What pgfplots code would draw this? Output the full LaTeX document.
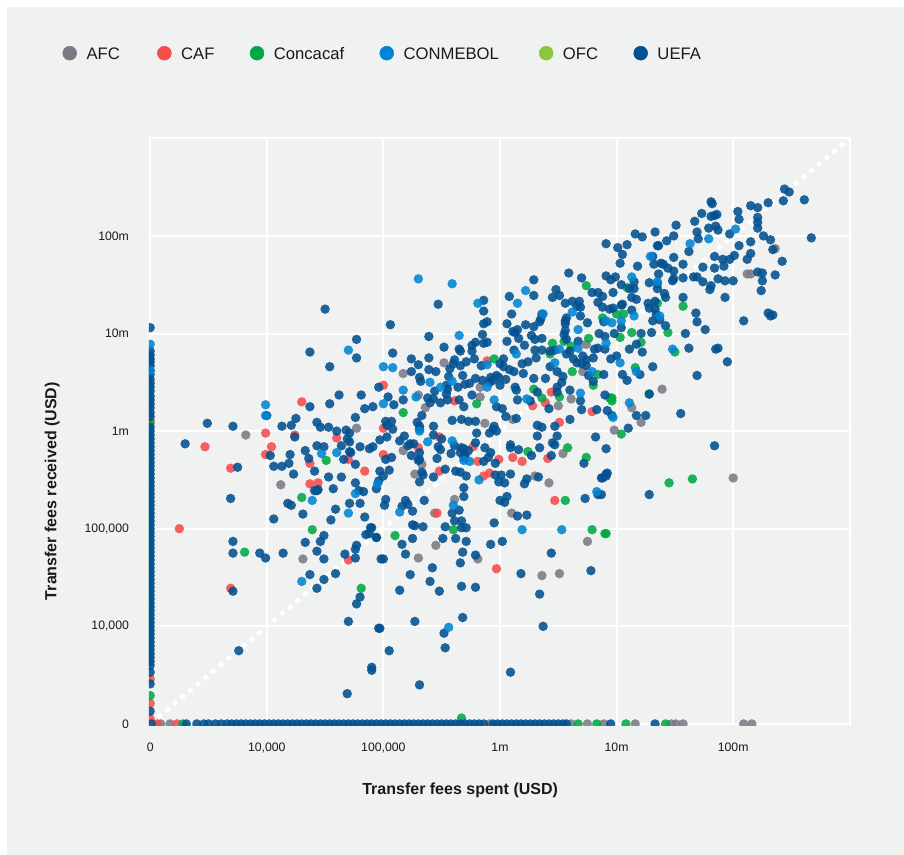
\documentclass[border=0pt]{standalone}
\usepackage{fontspec}
\setmainfont{Liberation Sans}
\usepackage{pgfplots}
\pgfplotsset{compat=1.18}

\definecolor{panel}{HTML}{F0F2F1}
\definecolor{afc}{HTML}{7A7B85}
\definecolor{caf}{HTML}{F54C4C}
\definecolor{concacaf}{HTML}{00A944}
\definecolor{conmebol}{HTML}{0085D2}
\definecolor{ofc}{HTML}{8CC63F}
\definecolor{uefa}{HTML}{025190}
\definecolor{ink}{HTML}{1A1A1A}

% points are log10(USD); 3 on either axis stands for a fee of 0
\pgfplotsset{
  dots/.style={only marks, mark=*, mark size=3.55pt,
    mark options={draw opacity=0, fill=#1, fill opacity=.88}, forget plot},
  key/.style={legend image code/.code={\fill[#1] (0,0) circle (5.2pt); \path (10.4pt,0);}},
}

\begin{document}
\begin{tikzpicture}
\path[use as bounding box, fill=white] (0,0) rectangle (678pt,641.25pt);
\fill[panel] (5.25pt,0) rectangle (678pt,636pt);
\begin{axis}[
    at={(111.75pt,97.2pt)}, anchor=south west,
    scale only axis, width=525.6pt, height=440.3pt,
    xmin=2.99, xmax=9, ymin=2.985, ymax=9,
    clip marker paths=true,
    xtick={3,4,5,6,7,8,9}, ytick={3,4,5,6,7,8,9},
    xticklabels={0,{10,000},{100,000},1m,10m,100m,{}},
    yticklabels={0,{10,000},{100,000},1m,10m,100m,{}},
    tick label style={font=\fontsize{9.2}{11}\selectfont, text=ink},
    xticklabel style={yshift=-9.5pt},
    yticklabel style={xshift=-11.5pt},
    tick style={draw=none},
    grid=major,
    major grid style={white, line width=1.5pt},
    axis line style={draw=none},
    every axis x label/.style={at={(axis description cs:0.444,-0.111)}, anchor=center},
    every axis y label/.style={at={(axis description cs:-0.138,0.399)}, rotate=90, anchor=center},
    label style={font=\bfseries\fontsize{12}{14}\selectfont, text=ink},
    xlabel={Transfer fees spent (USD)},
    ylabel={Transfer fees received (USD)},
    legend columns=6,
    legend style={draw=none, fill=none, at={(axis description cs:-0.1295,1.145)}, anchor=west,
      font=\fontsize{12.5}{15}\selectfont, text=ink,
      nodes={text height=9pt, text depth=0pt},
      /tikz/every even column/.append style={column sep=24.5pt}},
    legend cell align=left,
]
\addlegendimage{key=afc}\addlegendentry{AFC\rule{1.5pt}{0pt}}
\addlegendimage{key=caf}\addlegendentry{CAF}
\addlegendimage{key=concacaf}\addlegendentry{Concacaf}
\addlegendimage{key=conmebol}\addlegendentry{CONMEBOL\rule{3.5pt}{0pt}}
\addlegendimage{key=ofc}\addlegendentry{OFC}
\addlegendimage{key=uefa}\addlegendentry{UEFA}

\addplot[white, line width=3.2pt, dash pattern=on 3.6pt off 3.9pt, forget plot] coordinates {(3,3) (9,9)};

% AFC
\addplot[dots=afc] coordinates {
(3.09,3)(3.17,3)(5.91,3)(6.61,3)(6.75,3)(6.89,3)(7.16,3)(7.47,3)(7.51,3)(7.57,3)(8.09,3)(8.16,3)
(3.82,5.96)(4.77,6.03)(4.12,5.45)(4.31,4.69)
(8.36,7.87)(8.12,7.61)(8.15,7.61)(7.39,6.43)(8.00,5.52)(7.21,6.09)(6.98,6.01)(7.13,6.24)
(5.52,6.70)(5.17,6.59)(5.30,6.37)(5.83,6.45)(5.83,6.35)(5.36,6.24)(6.61,6.33)(6.50,6.26)(6.71,6.61)(6.74,6.89)
(6.11,6.12)(5.87,6.08)(5.17,5.80)(6.54,5.77)(5.33,5.66)(5.27,5.56)(6.30,5.54)(6.42,5.47)
(5.61,5.30)(5.44,5.16)(6.10,5.16)(5.45,4.83)(5.30,4.70)(5.81,4.69)(6.75,4.87)(6.36,4.52)(6.51,4.54)
};
% CAF
\addplot[dots=caf] coordinates {
(3.06,3)(3.23,3)(3,3.05)(3,3.21)(3,3.46)(3,6.11)
(4.30,6.30)(3.99,5.98)(4.24,5.96)(4.60,5.93)(3.47,5.84)(4.04,5.84)(3.99,5.76)(3.69,5.62)(4.37,5.67)(4.70,5.71)(4.84,5.59)(4.37,5.46)(4.44,5.47)
(5.89,6.72)(5.00,6.47)(6.44,6.40)(5.61,6.31)(6.28,6.26)(6.39,6.29)(6.79,6.20)(6.51,6.09)(5.00,6.03)(5.48,5.94)(5.30,5.83)(5.00,5.76)(5.77,5.84)
(5.81,5.69)(5.99,5.71)(6.11,5.73)(6.19,5.69)(6.41,5.72)(5.48,5.59)(5.91,5.57)(5.86,5.54)
(5.46,5.16)(6.47,5.29)(5.97,4.59)(3.25,5.00)(3.69,4.39)(4.70,4.68)
};
% Concacaf
\addplot[dots=concacaf] coordinates {
(3.28,3)(6.67,3)(6.83,3)(7.08,3)(7.42,3)(3,3.29)(3,6.08)
(4.51,5.70)(4.30,5.32)(7.04,5.97)(7.45,5.47)(7.65,5.51)(6.91,4.95)(6.96,6.31)
(7.09,7.47)(7.57,7.28)(7.35,7.31)(7.00,7.20)(7.06,7.20)(7.13,7.01)(7.44,7.01)(7.03,6.96)(7.21,6.91)(7.50,6.81)(7.16,6.65)(7.28,6.38)(6.96,6.34)
(6.74,7.49)(6.88,7.16)(6.45,6.90)(6.76,6.95)(6.55,6.92)(6.61,6.87)(6.43,6.79)(5.95,6.74)(6.62,6.61)(6.84,6.58)(6.80,6.47)(6.29,6.43)(6.36,6.34)(6.51,6.35)(6.94,6.34)
(5.80,6.28)(5.17,6.19)(6.58,5.83)(6.24,5.79)(6.74,5.73)
(6.56,5.29)(5.60,4.99)(5.10,4.93)(6.79,4.99)(6.90,4.95)(5.67,3.06)(4.39,4.99)(3.81,4.76)(4.81,4.39)
};
% UEFA
\addplot[dots=uefa] coordinates {
% fee received, nothing spent
(3,7.06)(3,6.82)(3,6.78)(3,6.74)(3,6.71)(3,6.67)(3,6.62)(3,6.58)(3,6.53)(3,6.49)(3,6.45)(3,6.41)(3,6.36)(3,6.32)(3,6.28)(3,6.24)(3,6.19)(3,6.15)
(3,6.04)(3,6.00)(3,5.96)(3,5.92)(3,5.88)(3,5.84)(3,5.80)(3,5.76)(3,5.72)(3,5.68)(3,5.64)(3,5.60)(3,5.56)(3,5.52)(3,5.48)(3,5.44)(3,5.40)(3,5.36)
(3,5.32)(3,5.28)(3,5.24)(3,5.20)(3,5.16)(3,5.12)(3,5.08)(3,5.04)(3,5.00)(3,4.96)(3,4.92)(3,4.88)(3,4.84)(3,4.80)(3,4.76)(3,4.72)(3,4.68)(3,4.64)
(3,4.60)(3,4.56)(3,4.52)(3,4.48)(3,4.44)(3,4.40)(3,4.36)(3,4.32)(3,4.28)(3,4.24)(3,4.20)(3,4.16)(3,4.12)(3,4.08)(3,4.04)(3,4.00)(3,3.96)(3,3.92)
(3,3.88)(3,3.84)(3,3.80)(3,3.76)(3,3.72)(3,3.68)(3,3.64)(3,3.60)(3,3.53)(3,3.41)(3,3.13)
% fee spent, nothing received
(3.01,3)(3.31,3)(3.40,3)(3.46,3)(3.50,3)(3.56,3)(3.61,3)(3.66,3)(3.70,3)(3.74,3)(3.78,3)(3.82,3)(3.86,3)(3.90,3)(3.94,3)(3.98,3)(4.02,3)(4.06,3)
(4.10,3)(4.14,3)(4.18,3)(4.22,3)(4.26,3)(4.30,3)(4.34,3)(4.38,3)(4.42,3)(4.46,3)(4.50,3)(4.54,3)(4.58,3)(4.62,3)(4.66,3)(4.70,3)(4.74,3)(4.78,3)
(4.82,3)(4.86,3)(4.90,3)(4.94,3)(4.98,3)(5.02,3)(5.06,3)(5.10,3)(5.14,3)(5.18,3)(5.22,3)(5.26,3)(5.30,3)(5.34,3)(5.38,3)(5.42,3)(5.46,3)(5.50,3)
(5.54,3)(5.58,3)(5.62,3)(5.66,3)(5.70,3)(5.74,3)(5.78,3)(5.82,3)(5.86,3)(5.94,3)(5.98,3)(6.02,3)(6.06,3)(6.10,3)(6.14,3)(6.18,3)(6.22,3)(6.26,3)
(6.30,3)(6.34,3)(6.38,3)(6.42,3)(6.46,3)(6.50,3)(6.54,3)(6.57,3)(6.95,3)(7.33,3)
% left of centre
(4.50,7.25)(4.77,6.94)(4.77,6.75)(4.37,6.81)(4.54,6.66)(4.62,6.37)(4.81,6.37)(4.54,6.28)(4.37,6.25)(4.84,6.23)(4.76,6.14)(4.25,6.13)(4.00,6.16)
(3.49,6.08)(3.71,6.05)(4.13,6.05)(4.21,6.06)(4.43,6.09)(4.46,6.04)(4.53,6.04)(4.60,6.00)(4.68,6.01)(4.71,5.98)(4.69,5.92)(4.71,5.89)(4.64,5.85)
(4.43,5.85)(4.49,5.84)(4.80,5.84)(4.88,5.82)(3.30,5.87)(4.24,5.94)(4.03,5.75)(4.20,5.76)(4.33,5.80)(4.36,5.72)(4.71,5.79)(4.72,5.78)(4.66,5.71)
(4.76,5.66)(4.06,5.64)(4.13,5.64)(4.19,5.67)(4.41,5.59)(4.23,5.56)(3.75,5.63)(4.53,5.53)(4.64,5.53)(4.76,5.47)(4.57,5.41)(4.43,5.39)(4.41,5.39)
(4.44,5.40)(4.79,5.39)(4.83,5.38)(3.69,5.31)
(4.18,5.26)(4.21,5.24)(4.31,5.15)(4.71,5.26)(4.80,5.26)(4.59,5.20)(4.55,5.09)(4.84,5.12)(4.06,5.10)(4.89,5.01)(4.85,4.94)(4.88,4.95)(4.94,4.91)
(3.71,4.87)(3.71,4.75)(3.94,4.75)(3.99,4.70)(4.14,4.75)(4.33,4.86)(4.46,4.87)(4.49,4.93)(4.43,4.77)(4.49,4.69)(4.77,4.83)(4.76,4.79)(4.67,4.74)
(4.76,4.70)(4.37,4.53)(4.59,4.54)(4.49,4.48)(4.43,4.39)(4.80,4.30)(4.77,4.23)(3.71,4.36)(4.70,4.05)(4.96,3.98)(3.76,3.75)(4.90,3.58)(4.69,3.31)(4.98,4.69)
% centre
(6.59,7.62)(6.29,7.55)(6.70,7.57)(6.99,7.58)(5.47,7.30)(5.86,7.34)(6.08,7.38)(6.29,7.39)(6.45,7.37)(6.51,7.39)(6.48,7.45)(6.56,7.31)(6.79,7.42)
(6.84,7.42)(6.88,7.38)(6.84,7.32)(6.62,7.33)(6.68,7.33)(6.66,7.28)(6.69,7.27)(6.88,7.27)(6.94,7.25)(5.86,7.23)(6.10,7.20)(6.36,7.20)(6.35,7.15)
(6.34,7.12)(6.69,7.18)(6.56,7.13)(6.57,7.16)(6.56,7.10)(6.75,7.11)(6.89,7.12)(5.89,7.12)(5.86,7.10)(5.06,7.09)(6.06,7.10)(6.22,7.09)(6.29,7.07)
(6.15,7.04)(6.11,7.02)(6.13,7.01)(6.56,7.03)(6.55,6.99)(5.85,6.99)(5.39,6.97)(6.16,6.95)(6.27,6.98)(6.30,6.94)(6.36,6.95)(6.85,7.00)(6.90,6.97)
(6.57,6.94)(6.67,6.92)(6.06,6.92)(5.89,6.91)(5.86,6.90)(5.79,6.91)(5.76,6.88)(6.21,6.88)(5.52,6.86)(5.65,6.84)(5.66,6.82)(5.76,6.82)(5.08,6.80)
(6.12,6.83)(6.30,6.83)(6.36,6.83)(6.43,6.82)(6.47,6.83)(6.60,6.82)(6.57,6.79)(6.84,6.85)(6.90,6.84)(6.71,6.77)(6.81,6.84)(5.24,6.74)(5.39,6.75)
(5.78,6.74)(5.71,6.71)(6.03,6.74)(6.31,6.75)(6.24,6.71)(6.19,6.69)(5.61,6.73)(5.60,6.69)(5.66,6.67)(5.30,6.68)(5.84,6.67)(6.00,6.69)(6.03,6.66)
(6.63,6.74)(6.66,6.70)(6.70,6.69)(6.74,6.73)(6.74,6.67)(6.80,6.75)(6.43,6.66)(6.49,6.61)(5.39,6.63)(5.45,6.61)(5.57,6.64)(5.24,6.61)(6.08,6.63)
(6.12,6.61)(6.20,6.59)(5.56,6.56)(5.68,6.57)(5.31,6.55)(5.32,6.51)(5.79,6.54)(5.85,6.52)(5.92,6.55)(5.97,6.57)(5.99,6.55)(5.94,6.52)(6.05,6.53)
(6.29,6.54)(6.39,6.54)(6.54,6.56)(6.76,6.57)(6.53,6.50)(6.49,6.45)(6.49,6.40)(6.60,6.42)(6.89,6.58)(6.80,6.51)(6.13,6.45)(6.14,6.42)(5.74,6.49)
(5.70,6.48)(5.64,6.45)(5.54,6.47)(5.55,6.43)(5.44,6.41)(5.54,6.38)(4.96,6.45)(5.04,6.35)(5.17,6.32)(5.09,6.27)(4.91,6.25)(5.38,6.34)(5.43,6.33)
(5.40,6.29)(5.49,6.29)(5.55,6.32)(5.65,6.32)(5.69,6.25)(5.76,6.37)(5.91,6.50)(6.00,6.47)(6.15,6.32)(6.26,6.31)(6.32,6.40)(6.42,6.23)(5.97,6.25)
(6.02,6.23)(6.05,6.15)(6.14,6.13)(6.69,6.31)(6.70,6.22)(6.83,6.22)(6.90,6.37)(5.33,6.16)(5.29,6.09)(5.31,6.05)(5.31,6.02)(5.02,6.10)(5.07,6.10)
(5.03,6.06)(5.08,6.02)(5.43,6.05)(5.59,6.11)(5.67,6.12)(5.73,6.10)(5.79,6.10)(5.95,6.05)(5.94,6.02)(5.91,5.98)(5.97,6.00)(5.80,5.98)(6.32,6.06)
(6.36,6.04)(6.47,6.05)(6.60,6.12)(6.82,5.94)(6.32,5.95)(6.49,5.95)(6.45,5.88)(6.47,5.86)(6.34,5.83)(6.09,5.86)(6.09,5.83)(6.16,5.81)(6.27,5.75)
(6.44,5.75)(6.72,5.67)(5.43,5.96)(5.50,5.92)(5.18,5.95)(5.14,5.90)(5.03,5.94)(4.97,5.91)(4.91,5.84)(5.23,5.87)(5.26,5.87)(5.21,5.85)(5.31,5.78)
(5.24,5.75)(5.31,5.71)(5.30,5.70)(5.07,5.73)(5.02,5.71)(5.47,5.84)(5.49,5.81)(5.58,5.77)(5.61,5.85)(5.67,5.83)(5.69,5.82)(5.79,5.88)(5.87,5.83)
(5.66,5.78)(5.73,5.80)(5.70,5.75)(5.69,5.73)(5.92,5.78)(5.90,5.73)(5.86,5.69)(5.96,5.67)(5.46,5.72)(5.33,5.58)(5.34,5.55)(5.31,5.48)(5.53,5.61)
(5.43,5.53)(5.62,5.59)(5.66,5.58)(5.71,5.54)(4.97,5.59)(5.05,5.60)(5.00,5.54)(4.96,5.49)(4.94,5.41)(5.69,5.42)(5.96,5.55)(6.01,5.55)(6.09,5.56)
(5.99,5.48)(6.04,5.47)(6.23,5.51)(6.21,5.46)(6.33,5.53)(6.87,5.52)(6.91,5.56)
% below centre
(5.02,5.30)(5.01,5.24)(5.19,5.29)(5.16,5.23)(5.21,5.25)(5.35,5.29)(5.25,5.18)(5.25,5.04)(5.27,5.03)(5.34,5.02)(5.69,5.33)(5.65,5.19)(5.59,5.16)
(5.53,5.02)(5.61,5.08)(5.67,5.08)(5.67,5.01)(5.71,5.01)(6.00,5.29)(6.04,5.27)(6.06,5.33)(6.15,5.13)(6.23,5.14)(5.95,5.06)(4.90,5.01)(4.94,4.91)
(5.25,4.90)(5.16,4.84)(5.19,4.74)(5.51,4.90)(5.62,4.90)(5.71,4.87)(5.92,4.84)(6.02,4.87)(5.68,4.76)(5.79,4.73)(5.66,4.65)(5.00,4.69)(5.42,4.60)
(5.23,4.53)(5.40,4.46)(5.14,4.37)(5.48,4.36)(5.67,4.41)(5.79,4.40)(6.18,4.54)(6.44,4.75)(6.78,4.57)(6.34,4.33)(6.73,5.31)(6.84,5.35)(5.27,4.05)
(5.68,4.09)(4.97,3.98)(5.52,3.93)(6.37,4.00)(5.05,3.75)(5.53,3.78)(4.90,3.55)(6.09,3.53)(5.31,3.40)
% top right
(8.44,8.48)(8.48,8.45)(8.43,8.36)(8.61,8.37)(8.30,8.34)(8.15,8.31)(8.21,8.29)(7.81,8.35)(7.82,8.33)(7.73,8.23)(8.04,8.25)(8.21,8.19)(7.81,8.20)
(7.84,8.21)(7.86,8.22)(7.67,8.15)(8.05,8.17)(7.51,8.11)(8.21,8.14)(8.21,8.08)(7.85,8.10)(7.79,8.08)(7.87,8.06)(7.69,8.04)(7.97,8.02)(7.33,8.04)
(7.16,8.02)(7.22,7.99)(7.49,8.00)(7.70,7.97)(8.26,8.00)(8.32,7.96)(8.67,7.98)(7.43,7.95)(7.35,7.90)(7.36,7.90)(6.91,7.92)(7.09,7.91)(7.01,7.88)
(7.05,7.81)(8.05,7.90)(8.15,7.94)(8.34,7.86)(7.62,7.84)(8.15,7.82)(8.01,7.80)(7.84,7.79)(7.31,7.79)(7.49,7.78)(7.91,7.76)(7.97,7.76)(8.12,7.76)
(8.42,7.74)(7.03,7.72)(7.32,7.71)(7.38,7.72)(7.40,7.71)(7.57,7.71)(7.18,7.69)(7.44,7.67)(7.74,7.68)(7.84,7.67)(7.92,7.69)(7.49,7.64)(8.21,7.63)
(8.25,7.62)(8.36,7.60)(7.36,7.61)(6.91,7.59)(7.57,7.57)(7.66,7.58)(7.69,7.58)(7.87,7.56)(7.49,7.56)(7.48,7.54)(8.25,7.54)(7.93,7.54)(8.00,7.54)
(7.74,7.53)(6.95,7.55)(7.28,7.52)(7.04,7.50)(7.35,7.51)(7.81,7.49)(7.80,7.45)(7.15,7.53)(7.11,7.46)(7.15,7.46)(7.35,7.46)(8.24,7.44)(6.97,7.42)
(7.41,7.41)(7.42,7.37)(7.57,7.37)(7.93,7.37)(7.13,7.37)(7.17,7.35)(7.33,7.33)(7.27,7.31)(7.05,7.30)(7.04,7.29)(7.28,7.26)(6.97,7.26)(7.13,7.24)
(7.33,7.25)(8.30,7.21)(8.34,7.19)(8.32,7.18)(7.34,7.20)(7.68,7.21)(8.09,7.13)(7.69,7.12)(7.31,7.13)(7.37,7.14)(7.42,7.08)(7.04,7.06)(7.76,7.04)
(7.59,7.00)(7.30,7.01)(7.21,7.00)(6.98,7.00)(7.17,6.89)(7.11,6.84)(7.22,6.81)(7.62,6.85)(7.85,6.84)(7.87,6.85)(7.95,6.71)(7.00,6.77)(6.95,6.74)
(7.31,6.66)(7.20,6.58)(7.05,6.58)(7.09,6.52)(7.69,6.57)(7.28,6.38)
% lower right
(7.55,6.18)(7.25,6.16)(7.17,6.16)(7.10,6.03)(6.96,6.16)(6.92,6.21)(6.91,5.82)(6.92,5.57)(6.91,5.54)(6.88,5.52)(7.84,5.85)(7.28,5.35)(6.87,5.35)
};
% CONMEBOL
\addplot[dots=conmebol] coordinates {
(3,6.89)(3,6.62)
(4.70,6.83)(3.99,6.27)(3.99,6.16)(4.47,5.77)(4.60,5.78)(4.39,5.29)(4.76,5.36)(4.30,4.46)(4.70,5.16)
(8.02,8.07)(7.79,7.97)(7.63,7.92)(7.29,7.79)(7.13,7.58)(7.35,7.53)(7.15,7.18)(7.37,7.18)(6.96,7.11)(7.04,7.13)(7.48,6.84)(7.03,6.70)(7.17,6.61)
(7.11,6.29)(6.97,6.14)
(5.30,7.56)(5.59,7.51)(6.22,7.44)(6.15,7.31)(5.81,7.31)(6.62,7.22)(6.37,7.20)(6.67,7.04)(5.65,6.98)(6.91,7.13)(6.91,6.90)(6.51,6.84)(6.67,6.85)
(6.14,6.79)(5.89,6.68)(6.47,6.70)(6.79,6.61)(5.00,6.66)(5.08,6.65)(5.40,6.50)(5.17,6.42)(5.28,6.35)(5.59,6.51)(5.49,6.45)(5.89,6.45)(5.95,6.32)
(6.23,6.33)(6.69,6.39)(5.00,6.28)(5.31,6.00)(5.38,5.89)(5.59,5.90)(5.69,5.70)(5.74,5.69)(5.82,5.50)(4.95,5.46)(6.83,5.38)
(5.14,5.17)(5.60,5.24)(6.19,4.99)(6.53,4.99)(5.56,3.99)
};
\end{axis}
\end{tikzpicture}
\end{document}
